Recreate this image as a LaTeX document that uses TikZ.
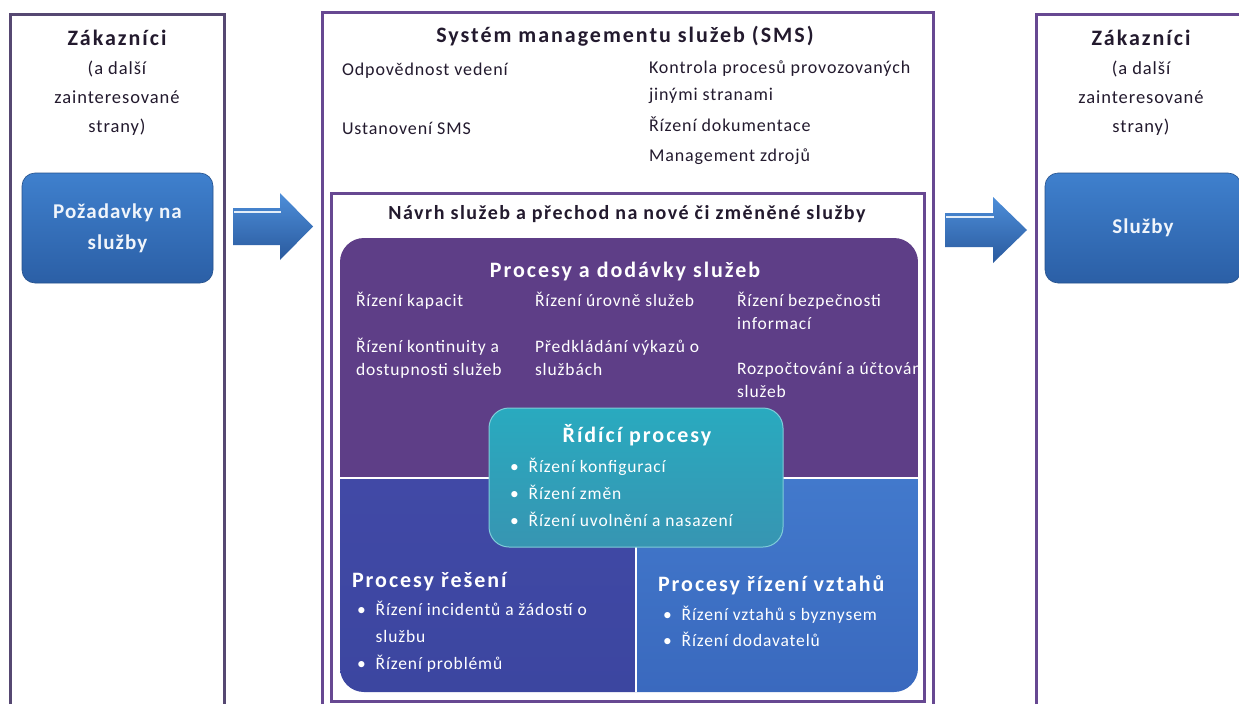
\documentclass[tikz,border=0pt]{standalone}
\usepackage{fontspec}
\setmainfont{Carlito}[LetterSpace=5]

\definecolor{frame}{HTML}{674892}
\definecolor{frameL}{HTML}{564872}
\definecolor{ink}{HTML}{231A2E}
\definecolor{sdp}{HTML}{5E3E87}
\definecolor{resolT}{HTML}{4149A6}
\definecolor{resolB}{HTML}{3C46A0}
\definecolor{relatT}{HTML}{4279CC}
\definecolor{relatB}{HTML}{3A69BE}
\definecolor{ctrlT}{HTML}{29AABF}
\definecolor{ctrlB}{HTML}{3795B2}
\definecolor{boxT}{HTML}{3F80CD}
\definecolor{boxB}{HTML}{2B5FA6}
\definecolor{arrT}{HTML}{4D8ED9}
\definecolor{arrB}{HTML}{2A5A9E}

% left-aligned / centred stacks whose baseline is the first line
\newcommand{\lstack}[1]{\begin{tabular}[t]{@{}l@{}}#1\end{tabular}}
\newcommand{\cstack}[1]{\begin{tabular}[t]{@{}c@{}}#1\end{tabular}}
\newcommand{\blist}[1]{\begin{tabular}[t]{@{}l@{\hspace{10pt}}l@{}}#1\end{tabular}}

\tikzset{
  plain/.style={inner sep=0pt, outer sep=0pt},
  head/.style={plain, text=ink, font=\fontsize{22}{26}\selectfont\bfseries\addfontfeature{LetterSpace=9}},
  headw/.style={head, text=white},
  subhead/.style={plain, text=ink, font=\fontsize{20}{24}\selectfont\bfseries\addfontfeature{LetterSpace=7.5}},
  note/.style={plain, text=ink, font=\fontsize{18.5}{29}\selectfont},
  toptxt/.style={plain, text=ink, font=\fontsize{18}{27}\selectfont},
  txtw/.style={plain, text=white, font=\fontsize{17.5}{23.5}\selectfont},
  listw/.style={plain, text=white, font=\fontsize{17.5}{27}\selectfont},
  custframe/.style={line width=3pt},
  reqbox/.style={plain, rounded corners=13pt, minimum width=191pt, minimum height=110pt,
    top color=boxT, bottom color=boxB, draw=boxB!85!black, line width=0.6pt,
    text=white!92!boxT, font=\fontsize{21}{31}\selectfont\bfseries},
  ctrlbox/.style={plain, rounded corners=20pt, minimum width=294pt, minimum height=139pt,
    top color=ctrlT, bottom color=ctrlB, draw=ctrlT!60!white, line width=1pt},
  blockarrow/.style={top color=arrT, bottom color=arrB},
  divider/.style={white, line width=1.8pt},
}

\begin{document}
\begin{tikzpicture}[x=1pt, y=-1pt]
\useasboundingbox (0,0) rectangle (1239,704);
\fill[white] (0,0) rectangle (1239,704);

% ---- customer columns (open at the bottom) ----
\draw[frameL, custframe] (10,704) -- (10,14) -- (224,14) -- (224,704);
\draw[frame, custframe] (1036,704) -- (1036,14) -- (1245,14);

\node[head, anchor=base] (custL) at (117,45) {Zákazníci};
\node[note, anchor=base] (custLn) at (117,74) {\cstack{(a další\\zainteresované\\strany)}};
\node[head, anchor=base] (custR) at (1141,45) {Zákazníci};
\node[note, anchor=base] (custRn) at (1141,74) {\cstack{(a další\\zainteresované\\strany)}};

\node[reqbox] (req) at (117.5,228) {\cstack{Požadavky na\\služby}};
\node[reqbox, minimum width=196pt] (srv) at (1143,228) {Služby};

% ---- block arrows ----
\shade[blockarrow] (233,208) -- (280,208) -- (280,193) -- (313,226.5) -- (280,260)
  -- (280,245) -- (233,245) -- cycle;
\draw[white!85!arrT, line width=1.6pt] (234,212) -- (281,212);
\shade[blockarrow] (945,213) -- (993,213) -- (993,197) -- (1027,230) -- (993,263)
  -- (993,247) -- (945,247) -- cycle;
\draw[white!85!arrT, line width=1.6pt] (946,217) -- (994,217);

% ---- service management system ----
\draw[frame, custframe] (322,704) -- (322,12) -- (933,12) -- (933,704);
\node[head, anchor=base] (sms) at (625,42) {Systém managementu služeb (SMS)};
\node[toptxt, anchor=base west] (lead) at (342,75) {Odpovědnost vedení};
\node[toptxt, anchor=base west] (estab) at (342,134) {Ustanovení SMS};
\node[toptxt, anchor=base west] (govern) at (649,73) {\lstack{Kontrola procesů provozovaných\\jinými stranami}};
\node[toptxt, anchor=base west] (docs) at (649,131) {Řízení dokumentace};
\node[toptxt, anchor=base west] (resrc) at (649,161) {Management zdrojů};

% ---- design and transition ----
\draw[frame, custframe] (331,193) rectangle (924,701);
\node[subhead, anchor=base] (design) at (627,219) {Návrh služeb a přechod na nové či změněné služby};

\begin{scope}
  \clip[rounded corners=24pt] (340,238) rectangle (918,692);
  \fill[sdp] (340,238) rectangle (918,478);
  \shade[top color=resolT, bottom color=resolB] (340,478) rectangle (636,692);
  \shade[top color=relatT, bottom color=relatB] (636,478) rectangle (918,692);
  \draw[divider] (340,478) -- (918,478);
  \draw[divider] (636,478) -- (636,692);

  \node[headw, anchor=base] (deliv) at (625,277) {Procesy a dodávky služeb};
  \node[txtw, anchor=base west] (cap) at (356,306) {Řízení kapacit};
  \node[txtw, anchor=base west] (cont) at (356,352) {\lstack{Řízení kontinuity a\\dostupnosti služeb}};
  \node[txtw, anchor=base west] (slm) at (535,306) {Řízení úrovně služeb};
  \node[txtw, anchor=base west] (rep) at (535,352) {\lstack{Předkládání výkazů o\\službách}};
  \node[txtw, anchor=base west] (sec) at (737,306) {\lstack{Řízení bezpečnosti\\informací}};
  \node[txtw, anchor=base west] (budget) at (737,374) {\lstack{Rozpočtování a účtování\\služeb}};

  \node[headw, anchor=base west] (resol) at (352,587) {Procesy řešení};
  \node[listw, anchor=base west] (resoll) at (357,615) {\blist{• & Řízení incidentů a žádostí o\\ & službu\\• & Řízení problémů}};

  \node[headw, anchor=base west] (relat) at (658,591) {Procesy řízení vztahů};
  \node[listw, anchor=base west, font=\fontsize{17.5}{26}\selectfont] (relatl) at (663,620) {\blist{• & Řízení vztahů s byznysem\\• & Řízení dodavatelů}};
\end{scope}

% ---- control processes ----
\node[ctrlbox] (ctrl) at (636,477.5) {};
\node[headw, anchor=base] (ctrlh) at (637,442) {Řídící procesy};
\node[listw, anchor=base west] (ctrll) at (510,472) {\blist{• & Řízení konfigurací\\• & Řízení změn\\• & Řízení uvolnění a nasazení}};
\end{tikzpicture}
\end{document}
